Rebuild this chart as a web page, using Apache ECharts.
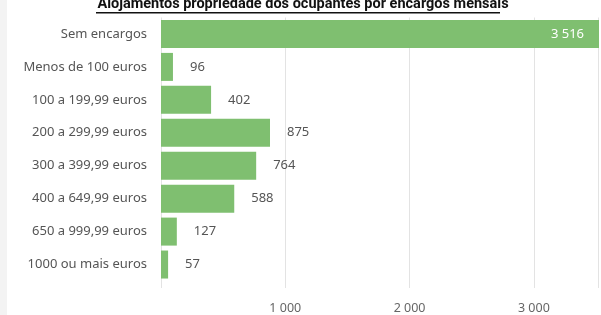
<!DOCTYPE html>
<html>
<head>
<meta charset="utf-8">
<script src="https://cdn.jsdelivr.net/npm/echarts@6/dist/echarts.min.js"></script>
<style>
  html, body { margin: 0; padding: 0; background: #fff; }
  #chart { width: 601px; height: 315px; }
</style>
</head>
<body>
<div id="chart"></div>
<script>
  // categories, top to bottom
  var categories = ['Sem encargos', 'Menos de 100 euros', '100 a 199,99 euros', '200 a 299,99 euros',
    '300 a 399,99 euros', '400 a 649,99 euros', '650 a 999,99 euros', '1000 ou mais euros'];
  var values = [3516, 96, 402, 875, 764, 588, 127, 57];
  var ticks = [1000, 2000, 3000];

  var fmt = function (v) {
    return String(v).replace(/\B(?=(\d{3})+(?!\d))/g, ' ');
  };
  var axisMax = 3516;

  var chart = echarts.init(document.getElementById('chart'));
  chart.setOption({
    animation: false,
    textStyle: { fontFamily: 'Noto Sans' },
    title: {
      text: 'Alojamentos propriedade dos ocupantes por encargos mensais',
      left: 298, textAlign: 'center', top: -8,
      textStyle: { fontSize: 14.5, fontWeight: 'bold', color: '#111', fontFamily: 'Roboto' }
    },
    graphic: [
      { type: 'rect', shape: { x: 0, y: 0, width: 7, height: 315 }, style: { fill: '#f3f3f3' }, silent: true },
      { type: 'rect', shape: { x: 96, y: 12, width: 404, height: 1.5 }, style: { fill: '#111' }, silent: true }
    ],
    grid: [
      { left: 161, right: 2, top: 17.5, height: 263.5 },
      { left: 161, right: 2, top: 17.5, height: 275 }
    ],
    xAxis: [
      { gridIndex: 0, type: 'value', min: 0, max: axisMax, show: false, splitLine: { show: false } },
      {
        gridIndex: 1, type: 'value', min: 0, max: axisMax, interval: 1000,
        axisLine: { show: false }, axisTick: { show: false },
        splitLine: { lineStyle: { color: '#e3e3e3', width: 1 } },
        axisLabel: {
          color: '#666', fontSize: 12.5, margin: 14,
          formatter: function (v) { return ticks.indexOf(v) >= 0 ? fmt(v) : ''; }
        }
      }
    ],
    yAxis: [
      {
        gridIndex: 0, type: 'category', data: categories, inverse: true,
        axisLine: { show: false }, axisTick: { show: false },
        axisLabel: { color: '#555', fontSize: 13, margin: 14 }
      },
      { gridIndex: 1, type: 'category', data: [], show: false }
    ],
    series: [{
      type: 'bar',
      xAxisIndex: 0, yAxisIndex: 0,
      data: values.map(function (v, i) {
        return i === 0
          ? { value: v, label: { position: 'insideRight', color: '#fff', distance: 15 } }
          : v;
      }),
      barCategoryGap: '15%',
      itemStyle: { color: '#7fbf70' },
      label: {
        show: true, position: 'right', distance: 17, color: '#555', fontSize: 13,
        formatter: function (p) { return fmt(p.value); }
      }
    }]
  });
</script>
</body>
</html>
